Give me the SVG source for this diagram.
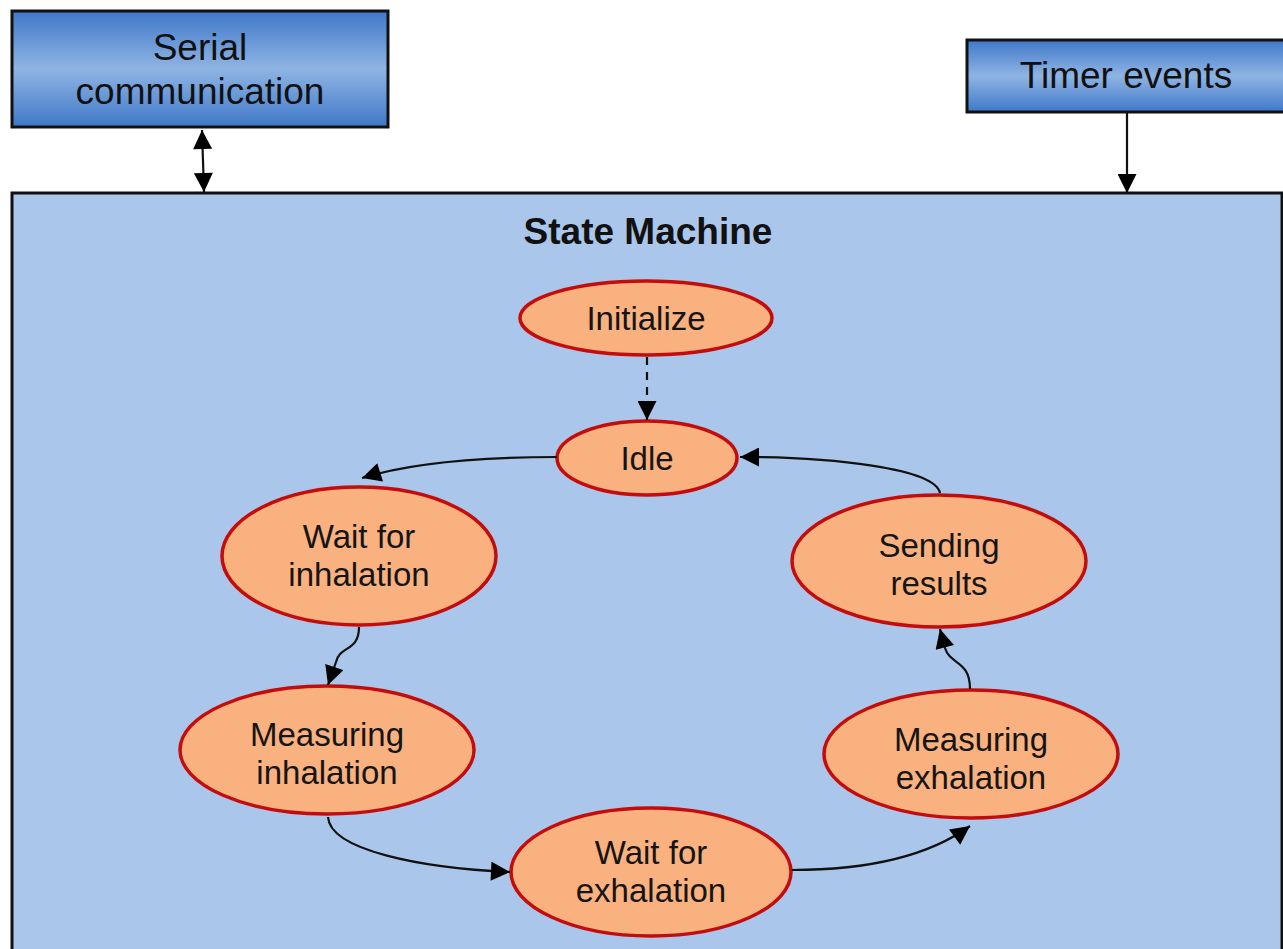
<svg xmlns="http://www.w3.org/2000/svg" width="1283" height="949" viewBox="0 0 1283 949">
<defs>
<linearGradient id="blueGrad" x1="0" y1="0" x2="0" y2="1">
<stop offset="0" stop-color="#3f78c9"/>
<stop offset="0.5" stop-color="#8fb4e3"/>
<stop offset="1" stop-color="#3f78c9"/>
</linearGradient>
<marker id="ah" viewBox="0 0 10 10" refX="10" refY="5" markerWidth="20" markerHeight="19" markerUnits="userSpaceOnUse" orient="auto-start-reverse">
<path d="M0,0 L10,5 L0,10 z" fill="#000"/>
</marker>
</defs>
<style>
.box{fill:url(#blueGrad);stroke:#111;stroke-width:3}
.boxtxt{font-family:"Liberation Sans",Arial,sans-serif;font-size:37px;fill:#111;text-anchor:middle}
.state{fill:#f9b17f;stroke:#c40c0c;stroke-width:3.5}
.stxt{font-family:"Liberation Sans",Arial,sans-serif;font-size:33px;fill:#151515;text-anchor:middle}
.conn{fill:none;stroke:#111;stroke-width:2.2}
</style>
<rect width="1283" height="949" fill="#ffffff"/>
<g id="state-machine">
<rect x="12" y="193" width="1270" height="770" fill="#aac6ea" stroke="#111" stroke-width="3"/>
<text x="648" y="244" font-family="'Liberation Sans',Arial,sans-serif" font-size="37" font-weight="bold" fill="#111" text-anchor="middle">State Machine</text>
</g>
<g id="serial-communication">
<rect class="box" x="12" y="11" width="376" height="116"/>
<text class="boxtxt" x="200" y="60">Serial</text>
<text class="boxtxt" x="200" y="104">communication</text>
</g>
<g id="timer-events">
<rect class="box" x="967" y="40" width="320" height="72"/>
<text class="boxtxt" x="1126" y="88">Timer events</text>
</g>
<g id="initialize">
<ellipse class="state" cx="646" cy="318" rx="126" ry="37"/>
<text class="stxt" x="646" y="330">Initialize</text>
</g>
<g id="idle">
<ellipse class="state" cx="647" cy="458" rx="90" ry="37"/>
<text class="stxt" x="647" y="470">Idle</text>
</g>
<g id="wait-for-inhalation">
<ellipse class="state" cx="359" cy="556" rx="137" ry="69"/>
<text class="stxt" x="359" y="548">Wait for</text>
<text class="stxt" x="359" y="586">inhalation</text>
</g>
<g id="sending-results">
<ellipse class="state" cx="939" cy="561" rx="147" ry="66"/>
<text class="stxt" x="939" y="557">Sending</text>
<text class="stxt" x="939" y="595">results</text>
</g>
<g id="measuring-inhalation">
<ellipse class="state" cx="327" cy="750" rx="147" ry="64"/>
<text class="stxt" x="327" y="746">Measuring</text>
<text class="stxt" x="327" y="784">inhalation</text>
</g>
<g id="measuring-exhalation">
<ellipse class="state" cx="971" cy="754" rx="147" ry="64"/>
<text class="stxt" x="971" y="751">Measuring</text>
<text class="stxt" x="971" y="789">exhalation</text>
</g>
<g id="wait-for-exhalation">
<ellipse class="state" cx="651" cy="872" rx="140" ry="64"/>
<text class="stxt" x="651" y="864">Wait for</text>
<text class="stxt" x="651" y="902">exhalation</text>
</g>
<g id="connectors">
<path class="conn" d="M202,130 L204,192" marker-start="url(#ah)" marker-end="url(#ah)"/>
<path class="conn" d="M1127,113 L1127,193" marker-end="url(#ah)"/>
<path class="conn" d="M647,357 L647,420" stroke="#333" stroke-width="2.5" stroke-dasharray="8,7" marker-end="url(#ah)"/>
<path class="conn" d="M557,457 C480,457 410,463 362,478" marker-end="url(#ah)"/>
<path class="conn" d="M940,493 C935,468 830,457 740,457" marker-end="url(#ah)"/>
<path class="conn" d="M359,627 C359,652 340,645 336,662 L328,685" marker-end="url(#ah)"/>
<path class="conn" d="M970,689 C970,660 950,665 945,648 L940,629" marker-end="url(#ah)"/>
<path class="conn" d="M328,817 C330,850 420,868 510,872" marker-end="url(#ah)"/>
<path class="conn" d="M792,870 C870,870 930,855 970,826" marker-end="url(#ah)"/>
</g>
</svg>
